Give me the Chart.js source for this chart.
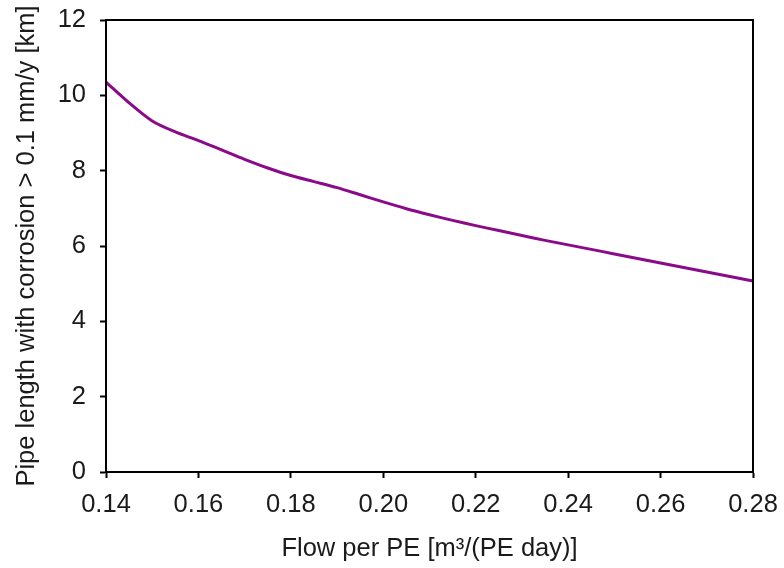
<!DOCTYPE html>
<html>
<head>
<meta charset="utf-8">
<script src="https://cdn.jsdelivr.net/npm/chart.js@4/dist/chart.umd.min.js"></script>
<style>
  html, body { margin: 0; padding: 0; background: #fff; }
  #wrap { width: 784px; height: 568px; }
</style>
</head>
<body>
<div id="wrap"><canvas id="pipe_chart" width="784" height="568"></canvas></div>
<script>
// flow per PE [m3/(PE day)] and pipe length with corrosion > 0.1 mm/y [km]
const flowValues = [0.14, 0.145, 0.15, 0.155, 0.16, 0.165, 0.17, 0.175, 0.18, 0.185,
    0.19, 0.195, 0.20, 0.205, 0.21, 0.215, 0.22, 0.225, 0.23, 0.235,
    0.24, 0.245, 0.25, 0.255, 0.26, 0.265, 0.27, 0.275, 0.28];
const pipeLength = [10.35, 9.80, 9.32, 9.03, 8.80, 8.55, 8.30, 8.07, 7.87, 7.71,
    7.55, 7.36, 7.17, 6.99, 6.83, 6.68, 6.54, 6.41, 6.28, 6.15,
    6.03, 5.91, 5.79, 5.67, 5.55, 5.43, 5.31, 5.19, 5.07];
const xTicks = [0.14, 0.16, 0.18, 0.20, 0.22, 0.24, 0.26, 0.28];
const yTicks = [0, 2, 4, 6, 8, 10, 12];

const FONT = "'Liberation Sans', Arial, sans-serif";

// top and right sides of the box
const frameBox = {
    id: 'frameBox',
    afterDatasetsDraw: function (chart) {
        var a = chart.chartArea;
        var ctx = chart.ctx;
        ctx.save();
        ctx.strokeStyle = '#000';
        ctx.lineWidth = 2;
        ctx.strokeRect(a.left, a.top, a.right - a.left, a.bottom - a.top);
        ctx.restore();
    }
};

// keep the plot box where the layout padding puts it
function noOverflow(s) {
    s.paddingTop = 0;
    s.paddingBottom = 0;
    s.paddingLeft = 0;
    s.paddingRight = 0;
}

var points = flowValues.map(function (x, i) { return { x: x, y: pipeLength[i] }; });

var ctx = document.getElementById('pipe_chart').getContext('2d');
window.pipeChart = new Chart(ctx, {
    type: 'line',
    data: {
        datasets: [{
            data: points,
            borderColor: '#8a0a8a',
            borderWidth: 3,
            pointRadius: 0,
            tension: 0.3,
            fill: false
        }]
    },
    options: {
        responsive: false,
        animation: false,
        layout: { padding: { left: 0, top: 20, right: 31, bottom: 0 } },
        plugins: { legend: { display: false }, tooltip: { enabled: false } },
        scales: {
            x: {
                type: 'linear',
                min: 0.14,
                max: 0.28,
                afterFit: function (s) { s.height = 96; noOverflow(s); },
                afterBuildTicks: function (s) { s.ticks = xTicks.map(function (v) { return { value: v }; }); },
                ticks: {
                    callback: function (v) { return Number(v).toFixed(2); },
                    color: '#1a1a1a',
                    font: { family: FONT, size: 25.5 },
                    padding: 12,
                    maxRotation: 0
                },
                grid: { drawOnChartArea: false, drawTicks: true, tickLength: 6, color: '#000', tickWidth: 2 },
                border: { display: true, color: '#000', width: 2 },
                title: {
                    display: true,
                    text: 'Flow per PE [m³/(PE day)]',
                    color: '#1a1a1a',
                    font: { family: FONT, size: 25.5 },
                    padding: { top: 0, bottom: 4 }
                }
            },
            y: {
                min: 0,
                max: 12,
                afterFit: function (s) { s.width = 106; noOverflow(s); },
                afterBuildTicks: function (s) { s.ticks = yTicks.map(function (v) { return { value: v }; }); },
                ticks: {
                    color: '#1a1a1a',
                    font: { family: FONT, size: 25.5 },
                    padding: 14
                },
                grid: { drawOnChartArea: false, drawTicks: true, tickLength: 6, color: '#000', tickWidth: 2 },
                border: { display: true, color: '#000', width: 2 },
                title: {
                    display: true,
                    text: 'Pipe length with corrosion > 0.1 mm/y [km]',
                    color: '#1a1a1a',
                    font: { family: FONT, size: 25.5 },
                    padding: { top: 12, bottom: 0 }
                }
            }
        }
    },
    plugins: [frameBox]
});
</script>
</body>
</html>
